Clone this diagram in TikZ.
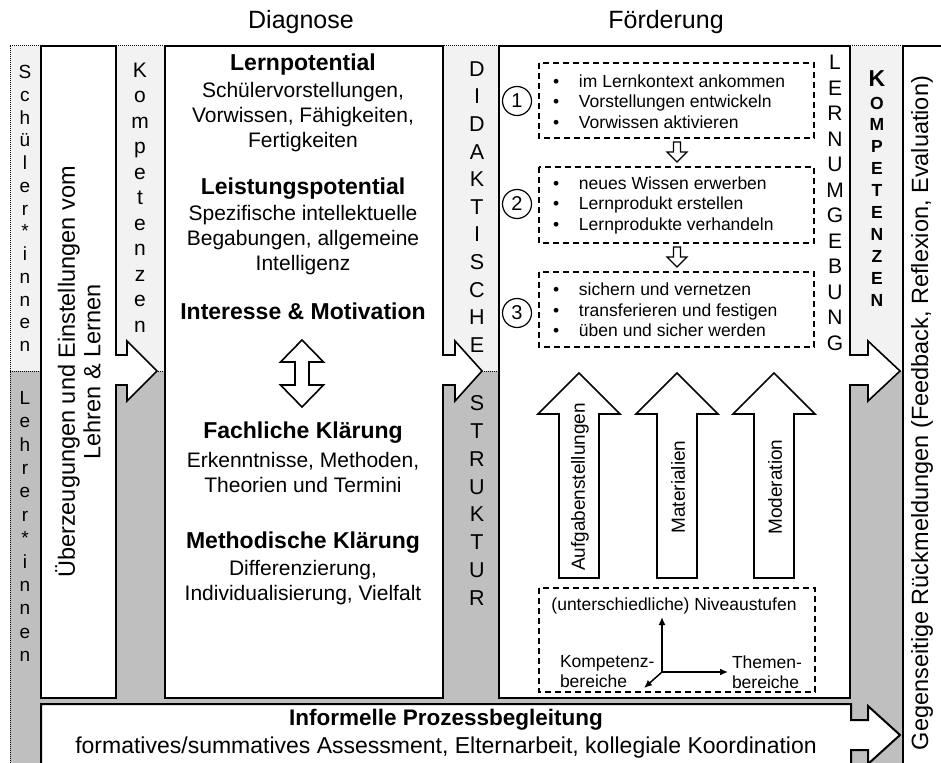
\documentclass[tikz,border=0pt]{standalone}
\usepackage{fontspec}
\setmainfont{Liberation Sans}
\usetikzlibrary{arrows.meta}
\definecolor{lgray}{HTML}{F2F2F2}
\definecolor{dgray}{HTML}{BFBFBF}
\newcommand\fsz[2]{\fontsize{#1}{#2}\selectfont}
\newcommand\bul{\makebox[26pt][l]{•}}
\begin{document}
\begin{tikzpicture}[x=1pt,y=-1pt,
  every node/.style={inner sep=0pt, outer sep=0pt},
  frame/.style={draw=black, line width=2pt, fill=white},
  blk/.style={draw=black, line width=1.6pt, fill=white, line join=miter},
  blkline/.style={draw=black, line width=1.6pt, line join=miter},
  dbox/.style={draw=black, line width=1.4pt, dash pattern=on 6pt off 4pt},
  dotl/.style={draw=black, line width=1pt, densely dotted},
  axis/.style={draw=black, line width=1.5pt, -{Latex[length=8pt,width=7pt]}},
  title/.style={font=\fsz{25}{30}},
  head/.style={font=\bfseries\fsz{23}{25}},
  desc/.style={align=center, font=\fsz{21}{25}},
  small/.style={font=\fsz{17.5}{20.5}},
  vword/.style={align=center},
  num/.style={draw=black, circle, line width=1.2pt, minimum size=29pt, font=\fsz{20}{22}}
]
\useasboundingbox (0,0) rectangle (941,762);
\clip (0,0) rectangle (941,762);

% backgrounds
\fill[lgray] (10,46) rectangle (903,371);
\fill[dgray] (10,371) rectangle (903,775);
\draw[dotl] (10,46) -- (903,46);
\draw[dotl] (10,46) -- (10,775);
\draw[dotl] (10,371) -- (903,371);

% right column
\fill[white] (903,46) rectangle (950,775);
\draw[line width=2pt] (950,46) -- (903,46) -- (903,775);

% main boxes
\path[frame] (41,46) rectangle (116,698);
\path[frame] (165,46) rectangle (443,698);
\path[frame] (499,46) rectangle (850,698);

% column arrows
\fill[white] (113,355) -- (127,355) -- (127,341) -- (157,371) -- (127,401) -- (127,385) -- (113,385) -- cycle;
\draw[blkline] (115,355) -- (127,355) -- (127,341) -- (157,371) -- (127,401) -- (127,385) -- (115,385);
\fill[white] (440,355) -- (455,355) -- (455,341) -- (482,371) -- (455,401) -- (455,385) -- (440,385) -- cycle;
\draw[blkline] (442,355) -- (455,355) -- (455,341) -- (482,371) -- (455,401) -- (455,385) -- (442,385);
\fill[white] (847,355) -- (868,355) -- (868,341) -- (900,371) -- (868,401) -- (868,385) -- (847,385) -- cycle;
\draw[blkline] (849,355) -- (868,355) -- (868,341) -- (900,371) -- (868,401) -- (868,385) -- (849,385);

% bottom arrow box
\path[frame] (41,704) -- (851,704) -- (851,720) -- (868,720) -- (868,706) -- (900,735) -- (868,764) -- (868,750) -- (851,750) -- (851,775) -- (41,775) -- cycle;

% titles
\node[title] (tdiag) at (301,22) {Diagnose};
\node[title] (tfoerd) at (666,22) {Förderung};

% column 1
\node[vword, font=\fsz{19}{22.75}] (schueler) at (25,208.5) {S\\c\\h\\ü\\l\\e\\r\\*\\i\\n\\n\\e\\n};
\node[vword, font=\fsz{19}{23.4}] (lehrer) at (25,526.5) {L\\e\\h\\r\\e\\r\\*\\i\\n\\n\\e\\n};

% column 2
\node[rotate=90, align=center, font=\fsz{23.5}{25.5}] (ueber) at (78,372) {Überzeugungen und Einstellungen vom\\Lehren \& Lernen};

% column 3
\node[vword, font=\fsz{21}{25.5}] (komp1) at (140,197.5) {K\\o\\m\\p\\e\\t\\e\\n\\z\\e\\n};

% Diagnose box
\node[head] (lp) at (303,65) {Lernpotential};
\node[desc] (lpd) at (303,117) {Schülervorstellungen,\\Vorwissen, Fähigkeiten,\\Fertigkeiten};
\node[head] (lsp) at (303,189) {Leistungspotential};
\node[desc] (lspd) at (303,240.5) {Spezifische intellektuelle\\Begabungen, allgemeine\\Intelligenz};
\node[head] (im) at (303,311) {Interesse \& Motivation};
\draw[blk] (302,340) -- (323.5,362) -- (309,362) -- (309,385) -- (323.5,385) -- (302,407) -- (280.5,385) -- (295,385) -- (295,362) -- (280.5,362) -- cycle;
\node[head] (fk) at (303,433) {Fachliche Klärung};
\node[desc] (fkd) at (303,472.5) {Erkenntnisse, Methoden,\\Theorien und Termini};
\node[head] (mk) at (303,543) {Methodische Klärung};
\node[desc] (mkd) at (303,582.5) {Differenzierung,\\Individualisierung, Vielfalt};

% column 5
\node[vword, font=\fsz{21.5}{27.6}] (didakt) at (477,207) {D\\I\\D\\A\\K\\T\\I\\S\\C\\H\\E};
\node[vword, font=\fsz{21.5}{27.9}] (struk) at (477,500.5) {S\\T\\R\\U\\K\\T\\U\\R};

% Foerderung box
\draw[dbox] (539,63) rectangle (814,138);
\draw[dbox] (539,167) rectangle (814,243);
\draw[dbox] (539,272) rectangle (814,347);
\node[num] (n1) at (517,101) {1};
\node[num] (n2) at (517,204) {2};
\node[num] (n3) at (517,313) {3};
\node[small, align=left, anchor=west] (l1) at (553,101.5) {\bul im Lernkontext ankommen\\\bul Vorstellungen entwickeln\\\bul Vorwissen aktivieren};
\node[small, align=left, anchor=west] (l2) at (553,205) {\bul neues Wissen erwerben\\\bul Lernprodukt erstellen\\\bul Lernprodukte verhandeln};
\node[small, align=left, anchor=west] (l3) at (553,310) {\bul sichern und vernetzen\\\bul transferieren und festigen\\\bul üben und sicher werden};
\draw[blk, line width=1.2pt] (673.5,142) -- (680.5,142) -- (680.5,152) -- (687,152) -- (677,162) -- (667,152) -- (673.5,152) -- cycle;
\draw[blk, line width=1.2pt] (673.5,247) -- (680.5,247) -- (680.5,257) -- (687,257) -- (677,267) -- (667,257) -- (673.5,257) -- cycle;

% big up arrows
\draw[blk] (559,578) -- (559,414) -- (538,414) -- (579,373) -- (620,414) -- (599,414) -- (599,578) -- cycle;
\draw[blk] (657,578) -- (657,414) -- (636,414) -- (677,373) -- (718,414) -- (697,414) -- (697,578) -- cycle;
\draw[blk] (754,578) -- (754,414) -- (733,414) -- (774,373) -- (815,414) -- (794,414) -- (794,578) -- cycle;
\node[rotate=90, font=\fsz{19}{22}] (aufg) at (580,487) {Aufgabenstellungen};
\node[rotate=90, font=\fsz{19}{22}] (mat) at (678,487) {Materialien};
\node[rotate=90, font=\fsz{19}{22}] (mod) at (775,487) {Moderation};

% niveau box
\draw[dbox] (539,588) rectangle (815,692);
\node[small] (niv) at (674,606) {(unterschiedliche) Niveaustufen};
\coordinate (o) at (662,672);
\coordinate (ay) at (662,617);
\coordinate (ax) at (728,672);
\coordinate (az) at (644,688);
\draw[axis] (o) -- (ay);
\draw[axis] (o) -- (ax);
\draw[axis] (o) -- (az);
\node[small, align=left, anchor=west, font=\fsz{17.5}{20}] (kb) at (560,672) {Kompetenz-\\bereiche};
\node[small, align=left, anchor=west, font=\fsz{17.5}{20}] (tb) at (732,672) {Themen-\\bereiche};

% LERNUMGEBUNG
\node[vword, font=\fsz{21}{25.5}] (lern) at (835,203) {L\\E\\R\\N\\U\\M\\G\\E\\B\\U\\N\\G};

% column 7
\node[font=\bfseries\fsz{23}{23}] (kk) at (877,79) {K};
\node[vword, font=\bfseries\fsz{17.5}{21.9}] (komp2) at (877,201.5) {O\\M\\P\\E\\T\\E\\N\\Z\\E\\N};

% column 8
\node[rotate=90, font=\fsz{23.5}{28}] (rueck) at (922,413) {Gegenseitige Rückmeldungen (Feedback, Reflexion, Evaluation)};

% bottom text
\node[font=\bfseries\fsz{22.5}{25}] (ipb) at (446,720) {Informelle Prozessbegleitung};
\node[font=\fsz{23}{25}] (form) at (446,748) {formatives/summatives Assessment, Elternarbeit, kollegiale Koordination};
\end{tikzpicture}
\end{document}
